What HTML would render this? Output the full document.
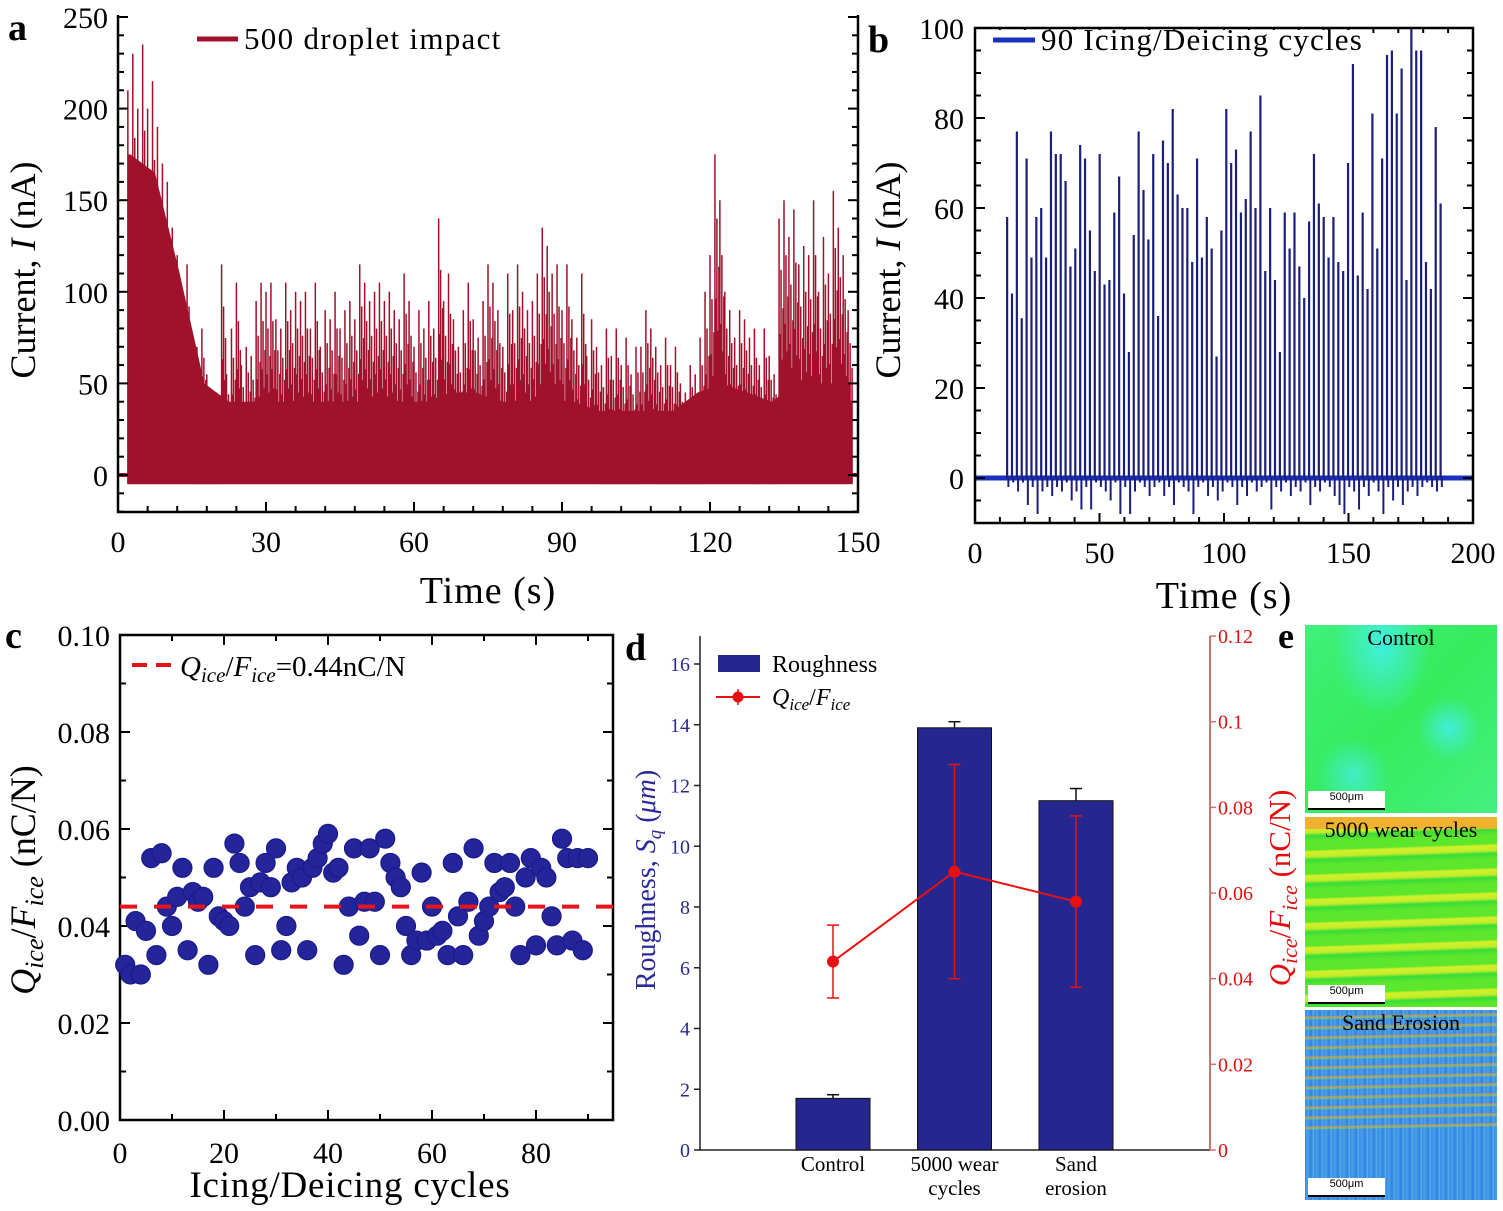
<!DOCTYPE html>
<html><head><meta charset="utf-8"><style>
html,body{margin:0;padding:0;background:#fff}
svg{display:block}
text{font-family:"Liberation Serif",serif}
.img{position:absolute;left:1305px;width:192px;overflow:hidden}
.img span{position:absolute;left:0;right:0;text-align:center;font-family:"Liberation Serif",serif;font-size:22px;color:#000}
.sb{position:absolute;left:3px;width:77px;height:17px;background:#fff;font-family:"Liberation Sans",sans-serif;font-size:11px;text-align:center;border-bottom:2px solid #000}
</style></head><body>
<div style="position:relative;width:1503px;height:1211px">
<svg id="fig" width="1503" height="1211" viewBox="0 0 1503 1211" xmlns="http://www.w3.org/2000/svg"></svg>
<div class="img" style="top:625px;height:188px;background:radial-gradient(ellipse at 40% 10%,#40f0e0 0,transparent 30%),radial-gradient(circle at 75% 55%,#40eed8 0,transparent 18%),radial-gradient(circle at 25% 80%,#40eec8 0,transparent 18%),linear-gradient(135deg,#3ef07a,#36ec5c 50%,#44f080)"><span style="top:0">Control</span><div class="sb" style="top:166px">500μm</div></div>
<div class="img" style="top:817px;height:190px;background:repeating-linear-gradient(178deg,#5ce62c 0,#5ce62c 9px,#d4f02a 11px,#c0ec2a 16px,#38dc38 19px,#5ce62c 24px)"><div style="position:absolute;top:0;left:0;right:0;height:12px;background:#f0b030"></div><span style="top:0">5000 wear cycles</span><div class="sb" style="top:168px">500μm</div></div>
<div class="img" style="top:1010px;height:190px;background:repeating-linear-gradient(179deg,transparent 0,transparent 6px,rgba(240,150,50,.75) 7px,rgba(120,220,90,.6) 9px,transparent 10px),repeating-linear-gradient(90deg,#3a8ae6 0,#4aa0e8 3px,#3280e0 6px,#5ab0ea 9px)"><div style="position:absolute;top:120px;left:0;right:0;bottom:0;background:repeating-linear-gradient(90deg,#3a8ae6 0,#4aa0e8 3px,#3280e0 6px,#58b4e8 9px)"></div><span style="top:0">Sand Erosion</span><div class="sb" style="top:168px">500μm</div></div>
</div>
<script>
// ---- Panel a data ----
const aPeaks=[0,0,210,230,200,235,200,215,190,170,160,135,120,100,115,60,70,80,55,40,45,115,55,80,105,60,70,65,95,105,100,105,85,80,105,90,100,95,100,80,105,70,90,85,100,80,90,95,85,115,105,95,100,105,95,100,90,85,110,95,70,90,80,95,80,140,95,110,85,70,90,105,85,75,95,115,105,90,70,110,90,115,100,90,95,110,135,125,110,115,90,115,85,75,110,65,85,70,60,80,65,80,60,75,55,70,70,90,80,70,60,75,60,70,50,45,60,55,75,100,120,175,150,100,90,75,90,85,75,80,60,80,65,55,140,150,130,145,115,125,120,150,100,130,110,155,135,120,90];
const aFill=[175,165,110,50,40,40,40,40,40,40,40,40,40,45,45,40,40,40,40,35,35,35,35,45,50,45,40,50,50,50];
const aXTicks=[0,30,60,90,120,150];
const aYTicks=[0,50,100,150,200,250];
// ---- Panel b data ----
const bPeaks=[58,41,77,35.5,71,49,58,60,49,77,72,72,66,47,51,74,71,55,46,72,43,44,59,67,41,28,54,77,64,53,72,36,75,70,82,63,60,60,48,71,49,58,51,27,55,82,70,73,59,62,77,60,85,46,60,44,28,59,51,59,47,40,57,72,61,58,49,58,48,46,70,92,45,59,42,81,51,71,94,95,81,91,44,100,95,95,48,42,78,61];
const bNeg=[-2,-1,-3,-1,-6,-2,-8,-3,-2,-4,-2,-3,-1,-5,-3,-7,-2,-7,-1,-2,-3,-5,-1,-8,-2,-8,-3,-1,-2,-4,-2,-1,-4,-2,-6,-1,-2,-3,-8,-2,-1,-4,-2,-5,-3,-1,-2,-6,-2,-4,-1,-3,-2,-1,-7,-2,-3,-1,-4,-2,-3,-1,-6,-2,-3,-1,-2,-4,-6,-8,-2,-3,-7,-2,-4,-1,-3,-8,-2,-5,-2,-6,-3,-2,-4,-2,-1,-2,-3,-2];
const bStart=12.9, bPeriod=1.956;
const bXTicks=[0,50,100,150,200];
const bYTicks=[0,20,40,60,80,100];
// ---- Panel c data ----
const cVals=[0.032,0.030,0.041,0.030,0.039,0.054,0.034,0.055,0.044,0.040,0.046,0.052,0.035,0.047,0.045,0.046,0.032,0.052,0.042,0.041,0.040,0.057,0.053,0.044,0.048,0.034,0.049,0.053,0.048,0.056,0.035,0.040,0.049,0.052,0.050,0.035,0.052,0.054,0.057,0.059,0.051,0.052,0.032,0.044,0.056,0.038,0.045,0.056,0.045,0.034,0.058,0.053,0.050,0.048,0.040,0.034,0.037,0.051,0.037,0.044,0.038,0.039,0.034,0.053,0.042,0.034,0.045,0.056,0.038,0.041,0.044,0.053,0.047,0.048,0.053,0.044,0.034,0.050,0.054,0.036,0.052,0.050,0.042,0.036,0.058,0.054,0.037,0.054,0.035,0.054];
const cMean=0.044;
const cXTicks=[0,20,40,60,80];
const cYTicks=[0,0.02,0.04,0.06,0.08,0.10];
// ---- Panel d data ----
const dCats=[["Control"],["5000 wear","cycles"],["Sand","erosion"]];
const dRough=[1.7,13.9,11.5];
const dRoughErr=[0.12,0.2,0.4];
const dQ=[0.044,0.065,0.058];
const dQHi=[0.0525,0.090,0.078];
const dQLo=[0.0355,0.040,0.038];
const dLTicks=[0,2,4,6,8,10,12,14,16];
const dRTicks=[0,0.02,0.04,0.06,0.08,0.1,0.12];

const NS="http://www.w3.org/2000/svg";
const svg=document.getElementById('fig');
function mk(tag,attrs,parent){const e=document.createElementNS(NS,tag);for(const k in attrs)e.setAttribute(k,attrs[k]);(parent||svg).appendChild(e);return e;}
function txt(s,x,y,size,anchor,parent,extra){const e=mk('text',Object.assign({x:x,y:y,'font-size':size,'text-anchor':anchor||'middle',fill:'#000'},extra||{}),parent);e.textContent=s;return e;}

// ===== Panel a =====
const xA=t=>118+t*740/150, yA=v=>475-v*1.832;
const ga=mk('g',{});


mk('line',{x1:xA(0),y1:yA(0),x2:xA(2),y2:yA(0),stroke:'#a0122c','stroke-width':4},ga);
mk('line',{x1:xA(148),y1:yA(0),x2:xA(150),y2:yA(0),stroke:'#a0122c','stroke-width':4},ga);
let pts=[];
aFill.forEach((v,i)=>{const t=Math.min(Math.max(i*5+2.5,2),148);pts.push(xA(t)+','+yA(v));});
const fillPoly=mk('polygon',{points:xA(2)+','+yA(-5)+' '+xA(2)+','+yA(aFill[0])+' '+pts.join(' ')+' '+xA(148)+','+yA(aFill[aFill.length-1])+' '+xA(148)+','+yA(-5),fill:'#a0122c'},ga);


const frac=[1,0.55,0.8,0.45,0.65];
aPeaks.forEach((v,i)=>{if(v<=0)return;for(let k=0;k<5;k++){const l=mk('line',{x1:xA(i+k*0.2),y1:yA(-5),x2:xA(i+k*0.2),y2:yA(v*frac[k]),stroke:'#a0122c','stroke-width':1.5},ga);

}});
mk('path',{d:`M118,15 V512 H858 V15`,fill:'none',stroke:'#000','stroke-width':2.5},ga);
for(let v=-20;v<=250;v+=10){const y=yA(v);if(y<15)continue;const maj=v%50==0;mk('line',{x1:118,y1:y,x2:118+(maj?10:6),y2:y,stroke:'#000','stroke-width':2},ga);mk('line',{x1:858,y1:y,x2:858-(maj?10:6),y2:y,stroke:'#000','stroke-width':2},ga);}
for(let t=0;t<=150;t+=6){const x=xA(t);const maj=t%30==0;mk('line',{x1:x,y1:512,x2:x,y2:512-(maj?10:6),stroke:'#000','stroke-width':2},ga);}
aYTicks.forEach(v=>txt(String(v),108,yA(v)+11,30,'end',ga));
aXTicks.forEach(v=>txt(String(v),xA(v),552,30,'middle',ga));
txt('Time (s)',488,603,38,'middle',ga,{'letter-spacing':'1'});
const la=txt('',35,270,36,'middle',ga,{transform:'rotate(-90 35 270)'});la.innerHTML='Current, <tspan font-style="italic">I</tspan> (nA)';
mk('line',{x1:197,y1:39,x2:238,y2:39,stroke:'#a0122c','stroke-width':5},ga);
txt('500 droplet impact',244,49,31,'start',ga,{'letter-spacing':'1.3'});
txt('a',8,40,38,'start',ga,{'font-weight':'bold'});

// ===== Panel b =====
const xB=t=>975+t*2.49, yB=v=>478-v*4.5;
const gb=mk('g',{});


mk('line',{x1:975,y1:yB(0),x2:1473,y2:yB(0),stroke:'#1a2fc0','stroke-width':5},gb);
bPeaks.forEach((v,i)=>{const t=bStart+i*bPeriod;const l=mk('line',{x1:xB(t),y1:yB(0),x2:xB(t),y2:yB(v),stroke:'#1c1f7a','stroke-width':2.2},gb);


mk('line',{x1:xB(t+0.5),y1:yB(0),x2:xB(t+0.5),y2:yB(bNeg[i]),stroke:'#1c1f7a','stroke-width':2},gb);});
mk('rect',{x:975,y:28,width:498,height:495,fill:'none',stroke:'#000','stroke-width':2.5},gb);
for(let v=-10;v<=100;v+=5){const y=yB(v);const maj=v%20==0;mk('line',{x1:975,y1:y,x2:975+(maj?10:6),y2:y,stroke:'#000','stroke-width':2},gb);mk('line',{x1:1473,y1:y,x2:1473-(maj?10:6),y2:y,stroke:'#000','stroke-width':2},gb);}
for(let t=0;t<=200;t+=10){const x=xB(t);const maj=t%50==0;mk('line',{x1:x,y1:523,x2:x,y2:523-(maj?10:6),stroke:'#000','stroke-width':2},gb);mk('line',{x1:x,y1:28,x2:x,y2:28+(maj?8:5),stroke:'#000','stroke-width':2},gb);}
bYTicks.forEach(v=>txt(String(v),964,yB(v)+11,30,'end',gb));
bXTicks.forEach(v=>txt(String(v),xB(v),563,30,'middle',gb));
txt('Time (s)',1224,608,38,'middle',gb,{'letter-spacing':'1'});
const lb=txt('',900,270,36,'middle',gb,{transform:'rotate(-90 900 270)'});lb.innerHTML='Current, <tspan font-style="italic">I</tspan> (nA)';
mk('rect',{x:988,y:30,width:372,height:26,fill:'#fff'},gb);
mk('line',{x1:993,y1:40,x2:1035,y2:40,stroke:'#1a2fc0','stroke-width':5},gb);
txt('90 Icing/Deicing cycles',1041,50,31,'start',gb,{'letter-spacing':'1.2'});
txt('b',868,52,38,'start',gb,{'font-weight':'bold'});

// ===== Panel c =====
const xC=c=>120+c*5.2, yC=v=>1120-v*4850;
const gc=mk('g',{});


mk('rect',{x:120,y:635,width:493,height:485,fill:'none',stroke:'#000','stroke-width':2.5},gc);
for(let v=0;v<=0.1001;v+=0.01){const y=yC(v);const maj=Math.round(v*100)%2==0;mk('line',{x1:120,y1:y,x2:120+(maj?10:6),y2:y,stroke:'#000','stroke-width':2},gc);mk('line',{x1:613,y1:y,x2:613-(maj?10:6),y2:y,stroke:'#000','stroke-width':2},gc);}
for(let c=0;c<=90;c+=10){const x=xC(c);const maj=c%20==0;mk('line',{x1:x,y1:1120,x2:x,y2:1120-(maj?10:6),stroke:'#000','stroke-width':2},gc);mk('line',{x1:x,y1:635,x2:x,y2:635+(maj?10:6),stroke:'#000','stroke-width':2},gc);}
cYTicks.forEach(v=>txt(v.toFixed(2),110,yC(v)+11,30,'end',gc));
cXTicks.forEach(v=>txt(String(v),xC(v),1163,30,'middle',gc));
txt('Icing/Deicing cycles',350,1197,37,'middle',gc,{'letter-spacing':'0.8'});
const lc=txt('',35,880,36,'middle',gc,{transform:'rotate(-90 35 880)'});lc.innerHTML='<tspan font-style="italic">Q</tspan><tspan font-style="italic" font-size="26" dy="8">ice</tspan><tspan dy="-8">/</tspan><tspan font-style="italic">F</tspan><tspan font-style="italic" font-size="26" dy="8">ice</tspan><tspan dy="-8"> (nC/N)</tspan>';
cVals.forEach((v,i)=>{const d=mk('circle',{cx:xC(i+1),cy:yC(v),r:9.5,fill:'#25259b',stroke:'#1a1a88','stroke-width':1.2},gc);

});
const ml=mk('line',{x1:120,y1:yC(cMean),x2:613,y2:yC(cMean),stroke:'#e8141a','stroke-width':4,'stroke-dasharray':'17,17'},gc);


mk('line',{x1:132,y1:665,x2:174,y2:665,stroke:'#e8141a','stroke-width':4,'stroke-dasharray':'15,9'},gc);
const lt=txt('',180,676,29,'start',gc);lt.innerHTML='<tspan font-style="italic">Q</tspan><tspan font-style="italic" font-size="21" dy="6">ice</tspan><tspan dy="-6">/</tspan><tspan font-style="italic">F</tspan><tspan font-style="italic" font-size="21" dy="6">ice</tspan><tspan dy="-6">=0.44nC/N</tspan>';
txt('c',5,648,38,'start',gc,{'font-weight':'bold'});

// ===== Panel d =====
const xD=i=>833+i*121.5, yL=v=>1150-v*30.375, yR=v=>1150-v*4283;
const gd=mk('g',{});


mk('line',{x1:700,y1:636,x2:700,y2:1150,stroke:'#222','stroke-width':1.5},gd);
mk('line',{x1:700,y1:1150,x2:1210,y2:1150,stroke:'#222','stroke-width':1.5},gd);
mk('line',{x1:1210,y1:636,x2:1210,y2:1150,stroke:'#d07070','stroke-width':2},gd);
dLTicks.forEach(v=>{mk('line',{x1:700,y1:yL(v),x2:694,y2:yL(v),stroke:'#222','stroke-width':1.5},gd);txt(String(v),690,yL(v)+7,20,'end',gd,{fill:'#2a2a9a'});});
dRTicks.forEach(v=>{mk('line',{x1:1210,y1:yR(v),x2:1216,y2:yR(v),stroke:'#d07070','stroke-width':1.5},gd);txt(String(v),1218,yR(v)+7,20,'start',gd,{fill:'#e01010'});});
dRough.forEach((v,i)=>{const b=mk('rect',{x:xD(i)-37,y:yL(v),width:74,height:yL(0)-yL(v),fill:'#262690',stroke:'#111','stroke-width':1},gd);


const t=yL(v+dRoughErr[i]);mk('line',{x1:xD(i),y1:yL(v),x2:xD(i),y2:t,stroke:'#111','stroke-width':1.5},gd);mk('line',{x1:xD(i)-6,y1:t,x2:xD(i)+6,y2:t,stroke:'#111','stroke-width':1.5},gd);
dCats[i].forEach((s,k)=>txt(s,xD(i),1171+k*24,21,'middle',gd));});
const lp=dQ.map((v,i)=>xD(i)+','+yR(v)).join(' ');
const qline=mk('polyline',{points:lp,fill:'none',stroke:'#e81010','stroke-width':2},gd);


dQ.forEach((v,i)=>{const x=xD(i);mk('line',{x1:x,y1:yR(dQHi[i]),x2:x,y2:yR(dQLo[i]),stroke:'#e81010','stroke-width':1.5},gd);
[dQHi[i],dQLo[i]].forEach(w=>mk('line',{x1:x-6,y1:yR(w),x2:x+6,y2:yR(w),stroke:'#e81010','stroke-width':1.5},gd));
const p=mk('circle',{cx:x,cy:yR(v),r:6,fill:'#e81010'},gd);

});
const ll=txt('',655,880,28,'middle',gd,{transform:'rotate(-90 655 880)',fill:'#2a2a9a'});ll.innerHTML='Roughness, <tspan font-style="italic">S</tspan><tspan font-style="italic" font-size="19" dy="6">q</tspan><tspan dy="-6"> (</tspan><tspan font-style="italic">μm</tspan>)';
const lr=txt('',1290,888,31,'middle',gd,{transform:'rotate(-90 1290 888)',fill:'#e01010'});lr.innerHTML='<tspan font-style="italic">Q</tspan><tspan font-style="italic" font-size="22" dy="7">ice</tspan><tspan dy="-7">/</tspan><tspan font-style="italic">F</tspan><tspan font-style="italic" font-size="22" dy="7">ice</tspan><tspan dy="-7"> (nC/N)</tspan>';
mk('rect',{x:718,y:655,width:42,height:17,fill:'#262690'},gd);
txt('Roughness',772,672,24,'start',gd);
mk('line',{x1:716,y1:697,x2:760,y2:697,stroke:'#e81010','stroke-width':2},gd);
mk('line',{x1:738,y1:689,x2:738,y2:705,stroke:'#e81010','stroke-width':1.5},gd);
mk('circle',{cx:738,cy:697,r:5.5,fill:'#e81010'},gd);
const lq=txt('',772,705,24,'start',gd);lq.innerHTML='<tspan font-style="italic">Q</tspan><tspan font-style="italic" font-size="17" dy="5">ice</tspan><tspan dy="-5">/</tspan><tspan font-style="italic">F</tspan><tspan font-style="italic" font-size="17" dy="5">ice</tspan>';
txt('d',625,660,38,'start',gd,{'font-weight':'bold'});
txt('e',1278,648,36,'start',svg,{'font-weight':'bold'});
</script>
</body></html>
